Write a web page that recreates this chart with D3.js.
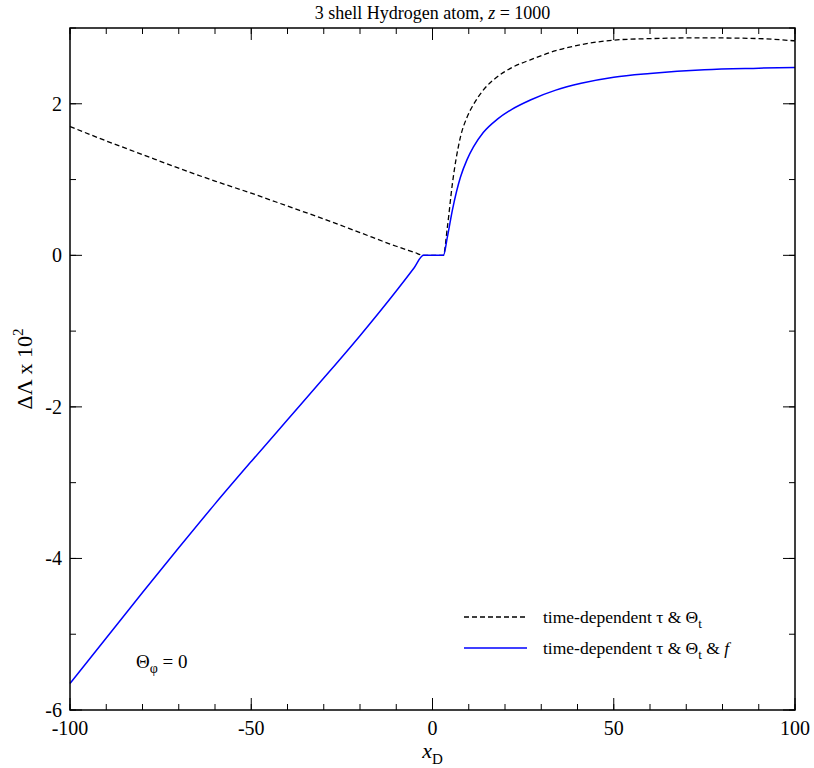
<!DOCTYPE html>
<html><head><meta charset="utf-8">
<script src="https://cdn.jsdelivr.net/npm/d3@7"></script>
<style>body{margin:0;background:#fff}text{font-family:"Liberation Serif",serif}</style>
</head><body><svg id="c" width="814" height="768"></svg>
<script>
// courbe pointillée : tau & Theta_t dépendants du temps
const xDash = [-100,-90,-80,-70,-60,-50,-40,-30,-20,-10,-5,-2.5,3,4.1,5.5,7.7,9.5,11.3,14,18,22,27,34,41,50,60,75,90,100];
const yDash = [1.70,1.51,1.33,1.15,0.98,0.82,0.65,0.48,0.30,0.12,0.04,0,0,0.37,0.95,1.56,1.82,1.99,2.18,2.36,2.48,2.58,2.70,2.78,2.84,2.86,2.87,2.86,2.83];
// courbe bleue : tau & Theta_t & f
const xBlue = [-100,-90,-80,-70,-60,-50,-40,-30,-20,-10,-5,-2.5,3,4.1,5.5,7.7,9.5,11.3,14,18,22,27,34,41,50,60,75,90,100];
const yBlue = [-5.65,-5.05,-4.45,-3.86,-3.28,-2.72,-2.17,-1.62,-1.06,-0.47,-0.16,0,0,0.24,0.60,1.03,1.26,1.43,1.62,1.80,1.93,2.05,2.18,2.27,2.35,2.40,2.45,2.47,2.48];
const xTicks = [-100,-50,0,50,100];
const yTicks = [-6,-4,-2,0,2];

const svg = d3.select("#c");
const L=70,R=795,T=28,B=710;
const x = d3.scaleLinear().domain([-100,100]).range([L,R]);
const y = d3.scaleLinear().domain([-6,3]).range([B,T]);

const g = svg.append("g");
function ticks(vals, len, horiz){
  vals.forEach(v=>{
    if(horiz){
      g.append("line").attr("x1",x(v)).attr("x2",x(v)).attr("y1",B).attr("y2",B-len).attr("stroke","#000");
      g.append("line").attr("x1",x(v)).attr("x2",x(v)).attr("y1",T).attr("y2",T+len).attr("stroke","#000");
    } else {
      g.append("line").attr("y1",y(v)).attr("y2",y(v)).attr("x1",L).attr("x2",L+len).attr("stroke","#000");
      g.append("line").attr("y1",y(v)).attr("y2",y(v)).attr("x1",R).attr("x2",R-len).attr("stroke","#000");
    }
  });
}
ticks(d3.range(-100,101,10),6,true);
ticks(xTicks,12,true);
ticks(d3.range(-6,3.01,1),6,false);
ticks(yTicks,12,false);

xTicks.forEach(v=>g.append("text").attr("x",x(v)).attr("y",B+25).attr("text-anchor","middle").attr("font-size",20).text(v));
yTicks.forEach(v=>g.append("text").attr("x",L-8).attr("y",y(v)+7).attr("text-anchor","end").attr("font-size",20).text(v));

const line = d3.line().x(d=>x(d[0])).y(d=>y(d[1])).curve(d3.curveMonotoneX);
g.append("path").datum(xDash.map((v,i)=>[v,yDash[i]])).attr("d",line).attr("fill","none").attr("stroke","#000").attr("stroke-width",1.3).attr("stroke-dasharray","5,3");
g.append("path").datum(xBlue.map((v,i)=>[v,yBlue[i]])).attr("d",line).attr("fill","none").attr("stroke","#0000ff").attr("stroke-width",1.5);

g.append("rect").attr("x",L).attr("y",T).attr("width",R-L).attr("height",B-T).attr("fill","none").attr("stroke","#000").attr("stroke-width",1.5);

const title = g.append("text").attr("x",(L+R)/2).attr("y",19).attr("text-anchor","middle").attr("font-size",18);
title.append("tspan").text("3 shell Hydrogen atom, ");
title.append("tspan").attr("font-style","italic").text("z");
title.append("tspan").text(" = 1000");

const xl = g.append("text").attr("x",x(0)).attr("y",B+48).attr("text-anchor","middle").attr("font-size",22);
xl.append("tspan").attr("font-style","italic").text("x");
xl.append("tspan").attr("font-size",15).attr("dy",6).text("D");

const yl = g.append("text").attr("transform",`translate(32,${(T+B)/2}) rotate(-90)`).attr("text-anchor","middle").attr("font-size",22);
yl.append("tspan").text("ΔΛ x 10");
yl.append("tspan").attr("font-size",15).attr("dy",-9).text("2");

const th = g.append("text").attr("x",136).attr("y",668).attr("font-size",19);
th.append("tspan").text("Θ");
th.append("tspan").attr("font-size",14).attr("dy",5).text("φ");
th.append("tspan").attr("dy",-5).text(" = 0");

g.append("line").attr("x1",464).attr("x2",527).attr("y1",617).attr("y2",617).attr("stroke","#000").attr("stroke-width",1.3).attr("stroke-dasharray","5,3");
g.append("line").attr("x1",464).attr("x2",527).attr("y1",648).attr("y2",648).attr("stroke","#0000ff").attr("stroke-width",1.5);
const l1 = g.append("text").attr("x",543).attr("y",623).attr("font-size",17.5);
l1.append("tspan").text("time-dependent τ & Θ");
l1.append("tspan").attr("font-size",13).attr("dy",5).text("t");
const l2 = g.append("text").attr("x",543).attr("y",654).attr("font-size",17.5);
l2.append("tspan").text("time-dependent τ & Θ");
l2.append("tspan").attr("font-size",13).attr("dy",5).text("t");
l2.append("tspan").attr("dy",-5).text(" & ");
l2.append("tspan").attr("font-style","italic").text("f");
</script></body></html>
